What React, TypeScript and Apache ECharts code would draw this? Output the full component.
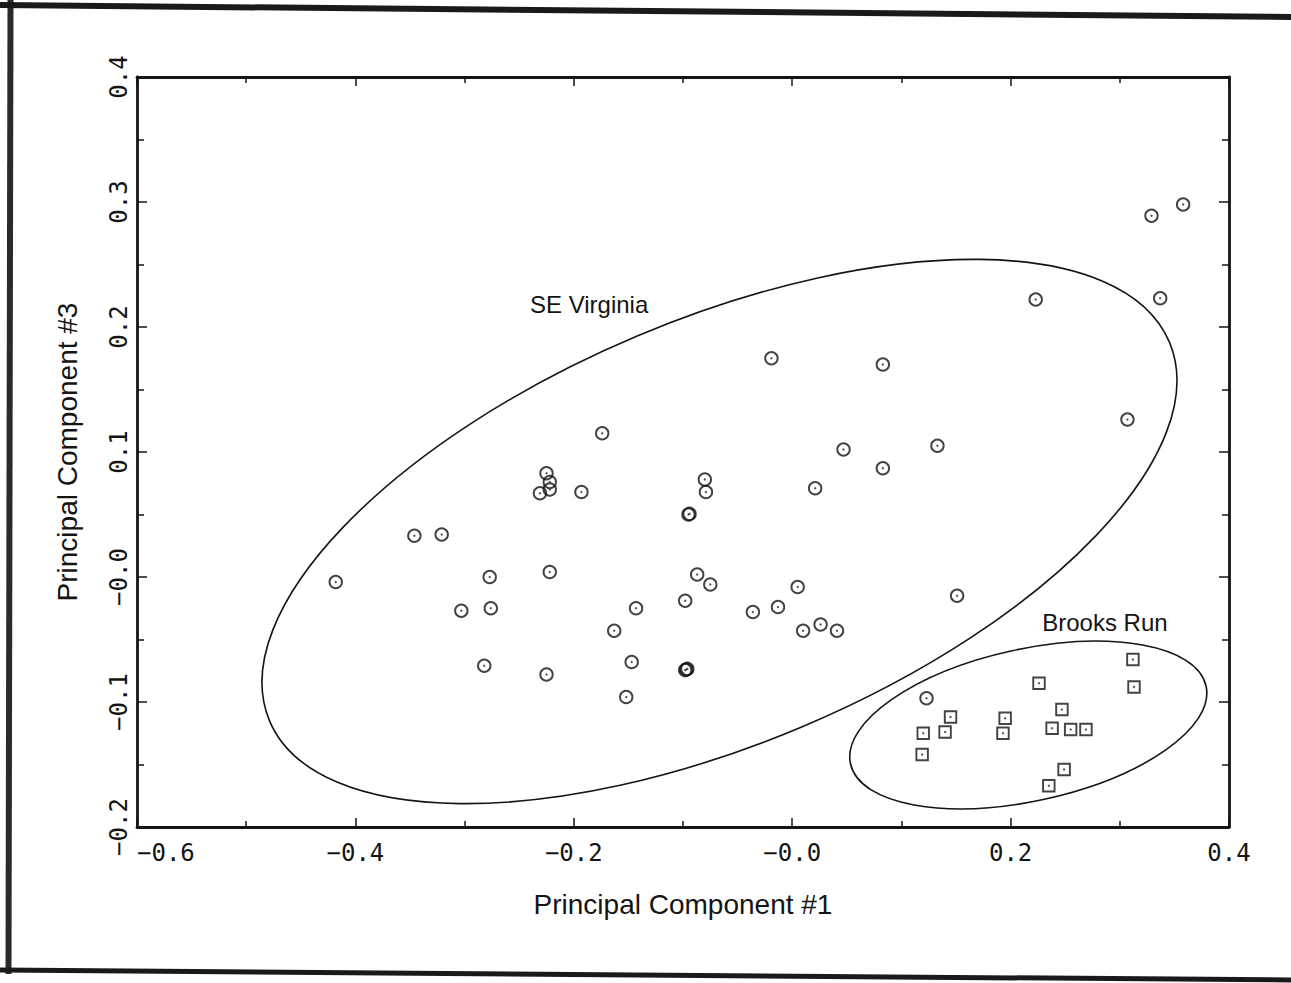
import React, { useEffect, useRef } from "react";
import * as echarts from "echarts";

// ---- axes ----
const X_MIN = -0.6;
const X_MAX = 0.4;
const Y_MIN = -0.2;
const Y_MAX = 0.4;
const xTickValues = [-0.6, -0.4, -0.2, 0, 0.2, 0.4];
const xTickLabels = ["−0.6", "−0.4", "−0.2", "−0.0", "0.2", "0.4"];
const yTickValues = [-0.2, -0.1, 0, 0.1, 0.2, 0.3, 0.4];
const yTickLabels = ["−0.2", "−0.1", "−0.0", "0.1", "0.2", "0.3", "0.4"];
const xTitle = "Principal Component #1";
const yTitle = "Principal Component #3";

// ---- SE Virginia (circles) ----
const seVirginiaX = [
  -0.418, -0.346, -0.321, -0.303, -0.277, -0.276, -0.282, -0.225, -0.222, -0.231,
  -0.222, -0.222, -0.225, -0.193, -0.174, -0.163, -0.143, -0.147, -0.152, -0.095,
  -0.094, -0.087, -0.080, -0.079, -0.075, -0.098, -0.097, -0.096, -0.098, -0.036,
  -0.019, -0.013, 0.005, 0.010, 0.021, 0.026, 0.041, 0.047, 0.083, 0.083,
  0.133, 0.151, 0.223, 0.307, 0.329, 0.337, 0.358, 0.123,
];
const seVirginiaY = [
  -0.004, 0.033, 0.034, -0.027, 0.000, -0.025, -0.071, 0.083, 0.076, 0.067,
  0.070, 0.004, -0.078, 0.068, 0.115, -0.043, -0.025, -0.068, -0.096, 0.050,
  0.0505, 0.002, 0.078, 0.068, -0.006, -0.019, -0.074, -0.0735, -0.0745, -0.028,
  0.175, -0.024, -0.008, -0.043, 0.071, -0.038, -0.043, 0.102, 0.170, 0.087,
  0.105, -0.015, 0.222, 0.126, 0.289, 0.223, 0.298, -0.097,
];

// ---- Brooks Run (squares) ----
const brooksRunX = [
  0.312, 0.226, 0.313, 0.247, 0.145, 0.195, 0.120, 0.140, 0.193, 0.238,
  0.255, 0.269, 0.119, 0.249, 0.235,
];
const brooksRunY = [
  -0.066, -0.085, -0.088, -0.106, -0.112, -0.113, -0.125, -0.124, -0.125, -0.121,
  -0.122, -0.122, -0.142, -0.154, -0.167,
];

// ---- group annotations (ellipse centres and label anchors, data units) ----
const groupNames = ["SE Virginia", "Brooks Run"];
const groupCentreX = [-0.0666, 0.2162];
const groupCentreY = [0.0364, -0.1184];
const groupLabelX = [-0.186, 0.2864];
const groupLabelY = [0.218, -0.036];

// sizes / styles (pixels)
const ELLIPSE_RX = [488, 182];
const ELLIPSE_RY = [212, 76];
const ELLIPSE_ROT_DEG = [22.8, 12.3];

const INK = "#141414";
const SANS = '"Liberation Sans", Arial, Helvetica, sans-serif';
const MONO = '"DejaVu Sans Mono", monospace';

function labelFor(values: number[], labels: string[], v: number) {
  const i = values.findIndex((t) => Math.abs(t - v) < 1e-6);
  return i >= 0 ? labels[i] : "";
}

export default function App() {
  const ref = useRef<HTMLDivElement>(null);

  useEffect(() => {
    if (!ref.current) return;
    const chart = echarts.init(ref.current, undefined, { renderer: "svg" });

    const axisLine = { show: true, onZero: false, lineStyle: { color: INK, width: 2.8 } };
    const xBase = {
      type: "value" as const,
      min: X_MIN,
      max: X_MAX,
      interval: 0.2,
      splitLine: { show: false },
      axisLine,
      axisTick: { show: true, inside: true, length: 9, lineStyle: { color: INK, width: 1.5 } },
      minorTick: { show: true, splitNumber: 2, length: 6, lineStyle: { color: INK, width: 1.5 } },
      minorSplitLine: { show: false },
    };
    const yBase = {
      type: "value" as const,
      min: Y_MIN,
      max: Y_MAX,
      interval: 0.1,
      splitLine: { show: false },
      axisLine,
      axisTick: { show: true, inside: true, length: 10, lineStyle: { color: INK, width: 1.5 } },
      minorTick: { show: true, splitNumber: 2, length: 7, lineStyle: { color: INK, width: 1.5 } },
      minorSplitLine: { show: false },
    };

    const circleData = seVirginiaX.map((x, i) => [x, seVirginiaY[i]]);
    const squareData = brooksRunX.map((x, i) => [x, brooksRunY[i]]);

    chart.setOption({
      animation: false,
      backgroundColor: "#ffffff",
      textStyle: { fontFamily: SANS },
      grid: { left: 137, right: 62, top: 77, bottom: 156, containLabel: false },
      xAxis: [
        {
          ...xBase,
          position: "bottom",
          name: xTitle,
          nameLocation: "middle",
          nameGap: 63,
          nameTextStyle: { fontFamily: SANS, fontSize: 28, color: INK },
          axisLabel: {
            show: true,
            margin: 14,
            fontFamily: MONO,
            fontSize: 24,
            color: INK,
            alignMinLabel: "left",
            formatter: (v: number) => labelFor(xTickValues, xTickLabels, v),
          },
        },
        {
          ...xBase,
          position: "top",
          axisLabel: { show: false },
        },
      ],
      yAxis: [
        {
          ...yBase,
          position: "left",
          name: yTitle,
          nameLocation: "middle",
          nameGap: 56,
          nameTextStyle: { fontFamily: SANS, fontSize: 28, color: INK },
          axisLabel: {
            show: true,
            rotate: 90,
            margin: 6,
            fontFamily: MONO,
            fontSize: 24,
            color: INK,
            formatter: (v: number) => labelFor(yTickValues, yTickLabels, v),
          },
        },
        {
          ...yBase,
          position: "right",
          axisLabel: { show: false },
        },
      ],
      series: [
        {
          type: "scatter",
          name: "SE Virginia",
          xAxisIndex: 0,
          yAxisIndex: 0,
          symbol: "circle",
          symbolSize: 12.5,
          silent: true,
          itemStyle: { color: "rgba(255,255,255,0)", borderColor: INK, borderWidth: 1.9 },
          data: circleData,
        },
        {
          type: "scatter",
          name: "Brooks Run",
          xAxisIndex: 0,
          yAxisIndex: 0,
          symbol: "rect",
          symbolSize: 11.5,
          silent: true,
          itemStyle: { color: "rgba(255,255,255,0)", borderColor: INK, borderWidth: 1.9 },
          data: squareData,
        },
        {
          type: "scatter",
          name: "centres",
          xAxisIndex: 0,
          yAxisIndex: 0,
          symbol: "circle",
          symbolSize: 2.4,
          silent: true,
          itemStyle: { color: "#333333" },
          data: circleData.concat(squareData),
        },
      ],
    });

    const graphics: any[] = [];
    groupNames.forEach((name, i) => {
      const c = chart.convertToPixel({ xAxisIndex: 0, yAxisIndex: 0 }, [groupCentreX[i], groupCentreY[i]]) as number[];
      graphics.push({
        type: "ellipse",
        x: c[0],
        y: c[1],
        rotation: (ELLIPSE_ROT_DEG[i] * Math.PI) / 180,
        shape: { cx: 0, cy: 0, rx: ELLIPSE_RX[i], ry: ELLIPSE_RY[i] },
        style: { fill: "none", stroke: INK, lineWidth: 1.6 },
        silent: true,
        z: 10,
      });
      const l = chart.convertToPixel({ xAxisIndex: 0, yAxisIndex: 0 }, [groupLabelX[i], groupLabelY[i]]) as number[];
      graphics.push({
        type: "text",
        x: l[0],
        y: l[1],
        style: {
          text: name,
          font: `24px ${SANS}`,
          fill: INK,
          align: "center",
          verticalAlign: "middle",
        },
        silent: true,
        z: 10,
      });
    });
    // scanned page frame
    graphics.push(
      { type: "line", shape: { x1: 10.5, y1: 0, x2: 8.5, y2: 974 }, style: { stroke: "#2a2a2a", lineWidth: 6 }, silent: true },
      { type: "line", shape: { x1: 0, y1: 5, x2: 1291, y2: 17 }, style: { stroke: "#1a1a1a", lineWidth: 6 }, silent: true },
      { type: "line", shape: { x1: 0, y1: 970, x2: 1291, y2: 980 }, style: { stroke: "#1a1a1a", lineWidth: 5 }, silent: true }
    );
    chart.setOption({ graphic: graphics });

    return () => chart.dispose();
  }, []);

  return (
    <div
      ref={ref}
      style={{ position: "fixed", left: 0, top: 0, width: "1291px", height: "983px", background: "#fff" }}
    />
  );
}
